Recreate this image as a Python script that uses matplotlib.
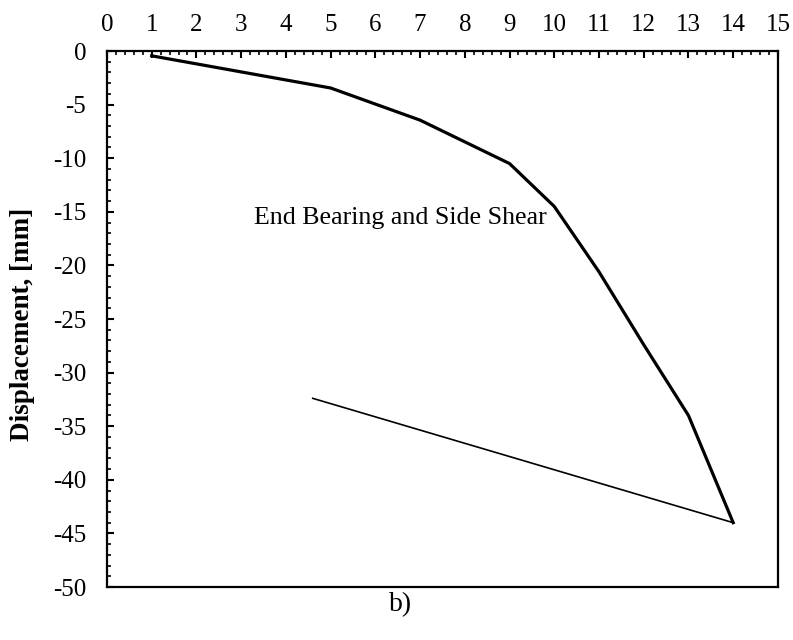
import matplotlib
matplotlib.use("Agg")
import matplotlib.pyplot as plt
from matplotlib.ticker import MultipleLocator

plt.rcParams['font.family'] = ['Liberation Serif', 'DejaVu Serif']
plt.rcParams['axes.unicode_minus'] = False

# Loading branch (thick)
load_x = [1, 5, 7, 9, 10, 11, 12, 13, 14]
load_y = [-0.45, -3.45, -6.45, -10.5, -14.5, -20.6, -27.4, -34.0, -44.0]
# Unloading branch (thin)
unload_x = [14, 4.6]
unload_y = [-44.0, -32.4]

xticks = list(range(0, 16))
yticks = list(range(0, -51, -5))

fig = plt.figure(figsize=(7.93, 6.4), dpi=100)
ax = fig.add_axes([0.1349, 0.0828, 0.981 - 0.1349, 0.9203 - 0.0828])

ax.plot(load_x, load_y, color='black', lw=2.3, solid_joinstyle='miter')
ax.plot(unload_x, unload_y, color='black', lw=1.2)

ax.set_xlim(0, 15)
ax.set_ylim(-50, 0)
ax.set_xticks(xticks)
ax.set_yticks(yticks)
ax.xaxis.set_minor_locator(MultipleLocator(0.2))
ax.yaxis.set_minor_locator(MultipleLocator(1))
ax.xaxis.tick_top()
ax.tick_params(axis='x', which='both', top=True, bottom=False, direction='in',
               labeltop=True, labelbottom=False, labelsize=18, pad=11)
ax.tick_params(axis='y', which='both', left=True, right=False, direction='in',
               labelsize=18, pad=15)
ax.tick_params(which='major', length=5, width=1.5)
ax.tick_params(which='minor', length=3, width=1.2)
for s in ax.spines.values():
    s.set_linewidth(1.6)

ax.set_ylabel('Displacement, [mm]', fontsize=19.5, fontweight='bold')
ax.yaxis.set_label_coords(-0.108, 0.49)

ax.text(6.57, -15.6, 'End Bearing and Side Shear', fontsize=18.7,
        ha='center', va='center')
fig.text(401 / 793, 1 - 605 / 640, 'b)', fontsize=20, ha='center', va='center')

fig.savefig('out.png', dpi=100)
